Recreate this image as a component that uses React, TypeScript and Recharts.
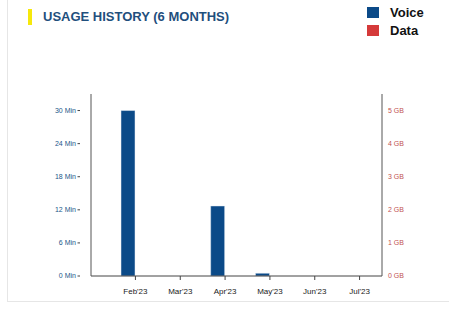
import { BarChart, Bar, XAxis, YAxis } from "recharts"

const months = ["Feb'23", "Mar'23", "Apr'23", "May'23", "Jun'23", "Jul'23"]
const voiceMinutes = [30, 0, 12.7, 0.5, 0, 0]
const dataGb = [0, 0, 0, 0, 0, 0]
const minuteTicks = [0, 6, 12, 18, 24, 30]
const gbTicks = [0, 1, 2, 3, 4, 5]

const VOICE = "#0b4a88"
const DATA = "#d53a3a"
const FONT = "'Liberation Sans', Arial, sans-serif"

const rows = months.map((m, i) => ({ month: m, voice: voiceMinutes[i], data: dataGb[i] }))

// left axis tick: label followed by a tiny dash, detached from the axis line
function MinTick(props: any) {
  const { x, y, payload } = props
  return (
    <g>
      <text x={x} y={y} dy="0.35em" textAnchor="end" fontSize={7} fill="#22578a" fontFamily={FONT}>
        {payload.value} Min
      </text>
      <line x1={x + 1.5} x2={x + 4} y1={y} y2={y} stroke="#444" strokeWidth={1} />
    </g>
  )
}

function LegendBox() {
  const items = [
    { label: "Voice", color: VOICE },
    { label: "Data", color: DATA },
  ]
  return (
    <div style={{ position: "absolute", left: 367, top: 3, fontFamily: FONT }}>
      {items.map((it) => (
        <div key={it.label} style={{ display: "flex", alignItems: "center", height: 18 }}>
          <span style={{ width: 12, height: 11, background: it.color, display: "inline-block", marginRight: 11 }} />
          <span style={{ fontSize: 13, fontWeight: "bold", color: "#111" }}>{it.label}</span>
        </div>
      ))}
    </div>
  )
}

export default function App() {
  return (
    <div style={{ position: "absolute", left: 0, top: 0, width: 449, height: 310, background: "#fff", overflow: "hidden" }}>
      <div
        style={{
          position: "absolute",
          left: 7,
          top: -10,
          width: 460,
          height: 312,
          border: "1px solid #e6e6e6",
          boxSizing: "border-box",
        }}
      />
      <div style={{ position: "absolute", left: 28, top: 9, width: 4, height: 16, background: "#f6e80c" }} />
      <div
        style={{
          position: "absolute",
          left: 43,
          top: 9,
          fontFamily: FONT,
          fontSize: 13,
          fontWeight: "bold",
          color: "#1f4f7d",
          whiteSpace: "nowrap",
        }}
      >
        USAGE HISTORY (6 MONTHS)
      </div>
      <LegendBox />
      <BarChart
        width={449}
        height={310}
        data={rows}
        margin={{ top: 94, right: 0, left: 0, bottom: 0 }}
        barGap={0}
        barSize={14}
        style={{ position: "absolute", left: 0, top: 0 }}
      >
        <XAxis
          dataKey="month"
          height={34}
          padding={{ left: 22, right: 0 }}
          tick={{ fontSize: 8, fill: "#222", fontFamily: FONT }}
          tickSize={4}
          tickMargin={8}
          axisLine={{ stroke: "#444" }}
          tickLine={{ stroke: "#444" }}
          interval={0}
        />
        <YAxis
          yAxisId="min"
          orientation="left"
          width={91}
          domain={[0, 33]}
          ticks={minuteTicks}
          tickSize={0}
          tickMargin={15}
          tick={<MinTick />}
          tickLine={false}
          axisLine={{ stroke: "#555" }}
          interval={0}
        />
        <YAxis
          yAxisId="gb"
          orientation="right"
          width={67}
          domain={[0, 5.5]}
          ticks={gbTicks}
          tickSize={0}
          tickMargin={6}
          tickFormatter={(v: number) => `${v} GB`}
          tick={{ fontSize: 7, fill: "#c25252", fontFamily: FONT }}
          tickLine={false}
          axisLine={{ stroke: "#555" }}
          interval={0}
        />
        <Bar yAxisId="min" dataKey="voice" name="Voice" fill={VOICE} stroke="#e8eef6" strokeWidth={0.5} isAnimationActive={false} />
        <Bar yAxisId="gb" dataKey="data" name="Data" fill={DATA} isAnimationActive={false} />
      </BarChart>
    </div>
  )
}
